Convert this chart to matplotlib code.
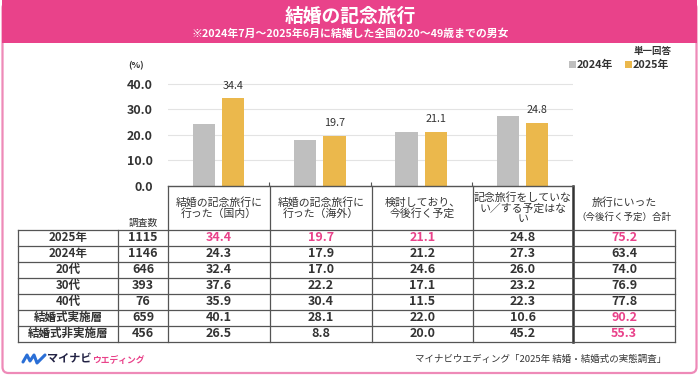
import matplotlib.pyplot as plt
from matplotlib.patches import Rectangle, FancyBboxPatch

plt.rcParams['font.family'] = ['Noto Sans CJK JP', 'DejaVu Sans']

# chart data
categories = ['結婚の記念旅行に\n行った（国内）', '結婚の記念旅行に\n行った（海外）',
              '検討しており、\n今後行く予定', '記念旅行をしていな\nい／する予定はな\nい']
v2024 = [24.3, 17.9, 21.2, 27.3]
v2025 = [34.4, 19.7, 21.1, 24.8]
yticks = [0, 10, 20, 30, 40]

# table data
row_labels = ['2025年', '2024年', '20代', '30代', '40代', '結婚式実施層', '結婚式非実施層']
n_counts = [1115, 1146, 646, 393, 76, 659, 456]
domestic = [34.4, 24.3, 32.4, 37.6, 35.9, 40.1, 26.5]
overseas = [19.7, 17.9, 17.0, 22.2, 30.4, 28.1, 8.8]
planning = [21.1, 21.2, 24.6, 17.1, 11.5, 22.0, 20.0]
not_going = [24.8, 27.3, 26.0, 23.2, 22.3, 10.6, 45.2]
total = [75.2, 63.4, 74.0, 76.9, 77.8, 90.2, 55.3]
highlight = [(0, 0), (0, 1), (0, 2), (0, 4), (5, 4), (6, 4)]

PINK = '#E9428A'
GRAY = '#BFBFBF'
GOLD = '#EBB84C'
TXT = '#333333'

W, H = 700, 379
fig = plt.figure(figsize=(W / 100, H / 100), dpi=100)

# overlay in pixel coords for frame, titles, table
ov = fig.add_axes([0, 0, 1, 1])
ov.set_xlim(0, W)
ov.set_ylim(H, 0)
ov.axis('off')
ov.set_zorder(0)

ov.add_patch(FancyBboxPatch((2.5, 2), 694, 371, boxstyle='round,pad=0,rounding_size=6',
                            fc='white', ec='#EE8AB8', lw=1.6))
ov.add_patch(Rectangle((2, 0), 695, 42.5, fc=PINK, ec='none'))
ov.text(350, 16.5, '結婚の記念旅行', color='white', fontsize=13.5, fontweight='bold',
        ha='center', va='center')
ov.text(350, 34, '※2024年7月～2025年6月に結婚した全国の20～49歳までの男女', color='white',
        fontsize=7.8, fontweight='bold', ha='center', va='center')

# legend
ov.text(672, 51, '単一回答', color=TXT, fontsize=6.8, fontweight='bold', ha='right', va='center')
ov.add_patch(Rectangle((569, 61), 7, 7, fc=GRAY, ec='none'))
ov.text(577, 64.5, '2024年', color=TXT, fontsize=7.8, fontweight='bold', va='center')
ov.add_patch(Rectangle((625, 61), 7, 7, fc=GOLD, ec='none'))
ov.text(633, 64.5, '2025年', color=TXT, fontsize=7.8, fontweight='bold', va='center')
ov.text(136, 66, '(%)', color=TXT, fontsize=6.5, fontweight='bold', ha='center', va='center')

# bar chart
y0, ppu = 185.7, 2.54
top = y0 - 45 * ppu
ax = fig.add_axes([168 / W, 1 - y0 / H, 405 / W, (y0 - top) / H])
ax.set_zorder(1)
ax.patch.set_alpha(0)
x = range(len(categories))
ax.bar([i - 0.145 for i in x], v2024, width=0.22, color=GRAY, zorder=2)
ax.bar([i + 0.145 for i in x], v2025, width=0.22, color=GOLD, zorder=2)
for i, v in enumerate(v2025):
    ax.text(i + 0.145, v + 5, f'{v:.1f}', ha='center', va='center', fontsize=7.8, color=TXT)
ax.set_xlim(-0.5, 3.5)
ax.set_ylim(0, 45)
ax.set_yticks(yticks)
ax.set_yticklabels([f'{t:.1f}' for t in yticks], fontsize=9, fontweight='bold', color=TXT)
ax.tick_params(axis='y', length=0, pad=11)
ax.set_xticks([0.5, 1.5, 2.5])
ax.set_xticklabels([])
ax.tick_params(axis='x', direction='in', length=3, color='#555555')
ax.grid(axis='y', color='#E3E3E3', lw=0.8, zorder=0)
for s in ['top', 'left', 'right']:
    ax.spines[s].set_visible(False)
ax.spines['bottom'].set_color('#555555')
ax.spines['bottom'].set_linewidth(1)

# table geometry (pixels)
col_edges = [18, 118, 168, 270, 372, 473, 573, 675]
t_top, row_h = 229.5, 16
n_rows = len(row_labels)
t_bot = t_top + n_rows * row_h
lc = '#555555'

# header cells
col_centers = [(col_edges[k] + col_edges[k + 1]) / 2 for k in range(len(col_edges) - 1)]
for k, lab in enumerate(categories):
    ov.text(col_centers[k + 2], 208, lab, ha='center', va='center', fontsize=7.8,
            color=TXT, linespacing=1.0)
ov.text(col_centers[6], 203, '旅行にいった', ha='center', va='center', fontsize=7.8, color=TXT)
ov.text(col_centers[6], 217, '（今後行く予定）合計', ha='center', va='center', fontsize=6.8, color=TXT)
ov.text(col_centers[1], 223, '調査数', ha='center', va='center', fontsize=7, color=TXT)
for xe in col_edges[2:6]:
    ov.plot([xe, xe], [y0, t_top], color=lc, lw=0.9)
ov.plot([573, 573], [y0, t_bot], color='#333333', lw=1.8)

# rows
for r in range(n_rows + 1):
    yy = t_top + r * row_h
    ov.plot([col_edges[0], col_edges[-1]], [yy, yy], color=lc, lw=0.9)
for xe in col_edges:
    if xe != 573:
        ov.plot([xe, xe], [t_top, t_bot], color=lc, lw=0.9)

columns = [domestic, overseas, planning, not_going, total]
for r in range(n_rows):
    yc = t_top + r * row_h + row_h / 2
    ov.text(col_centers[0], yc, row_labels[r], ha='center', va='center', fontsize=8.3,
            fontweight='bold', color=TXT)
    ov.text(col_centers[1], yc, str(n_counts[r]), ha='center', va='center', fontsize=9,
            fontweight='bold', color=TXT)
    for c, col in enumerate(columns):
        clr = PINK if (r, c) in highlight else TXT
        ov.text(col_centers[c + 2], yc, f'{col[r]:.1f}', ha='center', va='center',
                fontsize=9, fontweight='bold', color=clr)

# footer
ov.plot([23, 27, 30, 34, 37, 45], [362, 355, 361, 355, 363, 355], color='#2A6FD6', lw=2.2,
        solid_joinstyle='round', solid_capstyle='round')
ov.text(47, 359, 'マイナビ', color='#222244', fontsize=8, fontweight='bold', va='center')
ov.text(92, 360, 'ウエディング', color=PINK, fontsize=6.3, fontweight='bold', va='center')
ov.text(666, 359, 'マイナビウエディング「2025年 結婚・結婚式の実態調査」', color=TXT,
        fontsize=6.8, ha='right', va='center')

fig.savefig('out.png', dpi=100)
